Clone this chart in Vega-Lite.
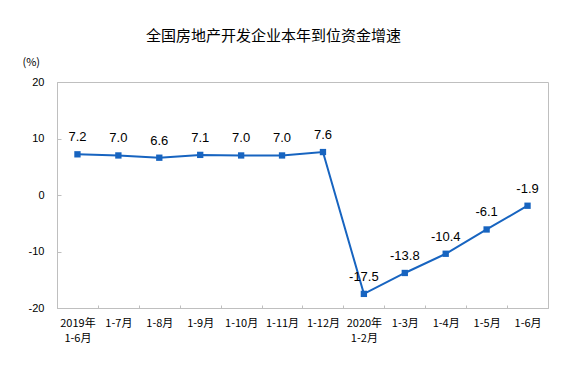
{
  "$schema": "https://vega.github.io/schema/vega-lite/v6.json",
  "autosize": "none",
  "width": 491,
  "height": 226,
  "padding": {"left": 57, "top": 82, "right": 33, "bottom": 57},
  "background": "white",
  "title": {
    "text": "全国房地产开发企业本年到位资金增速",
    "anchor": "start",
    "frame": "group",
    "dx": 89,
    "offset": 12,
    "font": "Noto Sans CJK SC",
    "fontSize": 15,
    "fontWeight": "normal",
    "color": "#000000"
  },
  "config": {
    "locale": {
      "number": {
        "decimal": ".",
        "thousands": ",",
        "grouping": [3],
        "currency": ["", ""],
        "minus": "-"
      }
    },
    "view": {"stroke": "#BFBFBF", "strokeWidth": 1},
    "axis": {"grid": false, "domainColor": "#BFBFBF", "tickColor": "#BFBFBF", "labelColor": "#000000"}
  },
  "data": {
    "values": [
      {"month": "2019年\n1-6月", "value": 7.2},
      {"month": "1-7月", "value": 7.0},
      {"month": "1-8月", "value": 6.6},
      {"month": "1-9月", "value": 7.1},
      {"month": "1-10月", "value": 7.0},
      {"month": "1-11月", "value": 7.0},
      {"month": "1-12月", "value": 7.6},
      {"month": "2020年\n1-2月", "value": -17.5},
      {"month": "1-3月", "value": -13.8},
      {"month": "1-4月", "value": -10.4},
      {"month": "1-5月", "value": -6.1},
      {"month": "1-6月", "value": -1.9}
    ]
  },
  "encoding": {
    "x": {
      "field": "month",
      "type": "ordinal",
      "sort": null,
      "scale": {"type": "band", "paddingInner": 0, "paddingOuter": 0},
      "axis": {
        "title": null,
        "labelAngle": 0,
        "labelExpr": "split(datum.label, '\\n')",
        "labelFont": "Noto Sans CJK SC",
        "labelFontSize": 11,
        "labelLineHeight": 15,
        "labelPadding": 12,
        "tickBand": "extent",
        "tickSize": -3,
        "labelBaseline": "top"
      }
    },
    "y": {
      "field": "value",
      "type": "quantitative",
      "scale": {"domain": [-20, 20], "nice": false, "zero": false},
      "axis": {
        "values": [-20, -10, 0, 10, 20],
        "title": "(%)",
        "titleAngle": 0,
        "titleX": -35,
        "titleY": -20,
        "titleAlign": "left",
        "titleBaseline": "middle",
        "titleFont": "Noto Sans CJK SC",
        "titleFontSize": 11,
        "titleFontWeight": "normal",
        "labelFont": "Liberation Sans",
        "labelFontSize": 11,
        "tickSize": -4,
        "labelPadding": 17
      }
    }
  },
  "layer": [
    {
      "mark": {"type": "line", "color": "#1764C0", "strokeWidth": 2}
    },
    {
      "mark": {"type": "point", "shape": "square", "filled": true, "color": "#1764C0", "size": 40, "opacity": 1}
    },
    {
      "mark": {"type": "text", "dy": -17, "font": "Liberation Sans", "fontSize": 13, "color": "#000000"},
      "encoding": {"text": {"field": "value", "type": "quantitative", "format": ".1f"}}
    }
  ]
}
